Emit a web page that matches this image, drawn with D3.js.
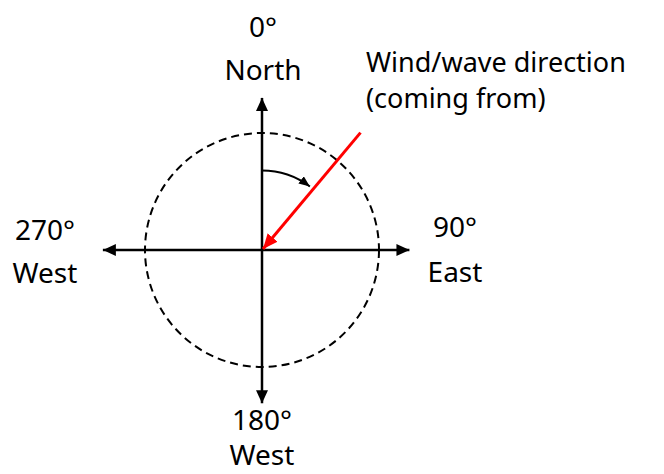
<!DOCTYPE html>
<html>
<head>
<meta charset="utf-8">
<script src="https://cdn.jsdelivr.net/npm/d3@7"></script>
<style>
  html, body { margin: 0; padding: 0; background: #fff; }
  svg text { font-family: "Noto Sans", "Open Sans", sans-serif; fill: #000; }
</style>
</head>
<body>
<svg id="compass" width="664" height="474"></svg>
<script>
// Compass directions (bearing in degrees, label lines)
const bearings = [0, 90, 180, 270];
const degreeLabels = ["0°", "90°", "180°", "270°"];
const nameLabels = ["North", "East", "West", "West"];
// Wind/wave direction (coming from), degrees
const windBearing = 40;
const windLabel = ["Wind/wave direction", "(coming from)"];

document.addEventListener("DOMContentLoaded", () => {
    const cx = 262, cy = 250;
    const svg = d3.select("#compass");

    // radius in px for unit lengths
    const r = d3.scaleLinear().domain([0, 1]).range([0, 117]);
    const toRad = (deg) => deg * Math.PI / 180;
    const px = (deg, len) => cx + Math.sin(toRad(deg)) * len;
    const py = (deg, len) => cy - Math.cos(toRad(deg)) * len;

    // arrowheads
    const defs = svg.append("defs");
    const marker = (id, color, w, h) => defs.append("marker")
        .attr("id", id)
        .attr("viewBox", `0 0 ${w} ${h}`)
        .attr("refX", w).attr("refY", h / 2)
        .attr("markerWidth", w).attr("markerHeight", h)
        .attr("markerUnits", "userSpaceOnUse")
        .attr("orient", "auto")
        .append("path")
        .attr("d", `M0,0L${w},${h / 2}L0,${h}Z`)
        .attr("fill", color);
    marker("ah-black", "#000", 13, 12);
    marker("ah-small", "#000", 11, 9);
    marker("ah-red", "#f00", 15, 13);

    // dashed circle
    svg.append("circle")
        .attr("cx", cx).attr("cy", cy)
        .attr("r", r(1))
        .attr("fill", "none")
        .attr("stroke", "#000")
        .attr("stroke-width", 2)
        .attr("stroke-dasharray", "8,5");

    // axis arrows (length per direction, in circle radii)
    const axisLen = { 0: 1.30, 90: 1.26, 180: 1.31, 270: 1.36 };
    svg.selectAll("line.axis")
        .data(bearings)
        .enter()
        .append("line")
        .attr("class", "axis")
        .attr("x1", cx).attr("y1", cy)
        .attr("x2", (d) => px(d, r(axisLen[d])))
        .attr("y2", (d) => py(d, r(axisLen[d])))
        .attr("stroke", "#000")
        .attr("stroke-width", 2.5)
        .attr("marker-end", "url(#ah-black)");

    // direction labels
    const labelPos = {
        0: { x: 263, y: [37, 80] },
        90: { x: 455, y: [237, 282] },
        180: { x: 262, y: [430, 465] },
        270: { x: 45, y: [240, 283] }
    };
    bearings.forEach((b, i) => {
        [degreeLabels[i], nameLabels[i]].forEach((s, j) => {
            svg.append("text")
                .attr("text-anchor", "middle")
                .attr("font-size", 28)
                .attr("x", labelPos[b].x)
                .attr("y", labelPos[b].y[j])
                .text(s);
        });
    });

    // angle arc from north to wind bearing
    const arcR = r(0.68);
    const arcPath = d3.path();
    arcPath.arc(cx, cy, arcR, -Math.PI / 2, toRad(windBearing - 3) - Math.PI / 2);
    svg.append("path")
        .attr("d", arcPath.toString())
        .attr("fill", "none")
        .attr("stroke", "#000")
        .attr("stroke-width", 2)
        .attr("marker-end", "url(#ah-small)");

    // wind arrow (coming from windBearing toward center)
    svg.append("line")
        .attr("x1", px(windBearing, r(1.31)))
        .attr("y1", py(windBearing, r(1.31)))
        .attr("x2", cx + 1).attr("y2", cy - 1)
        .attr("stroke", "#f00")
        .attr("stroke-width", 3)
        .attr("marker-end", "url(#ah-red)");

    windLabel.forEach((s, j) => {
        svg.append("text")
            .attr("font-size", 27)
            .attr("x", 366)
            .attr("y", 72 + j * 36)
            .text(s);
    });
});
</script>
</body>
</html>
